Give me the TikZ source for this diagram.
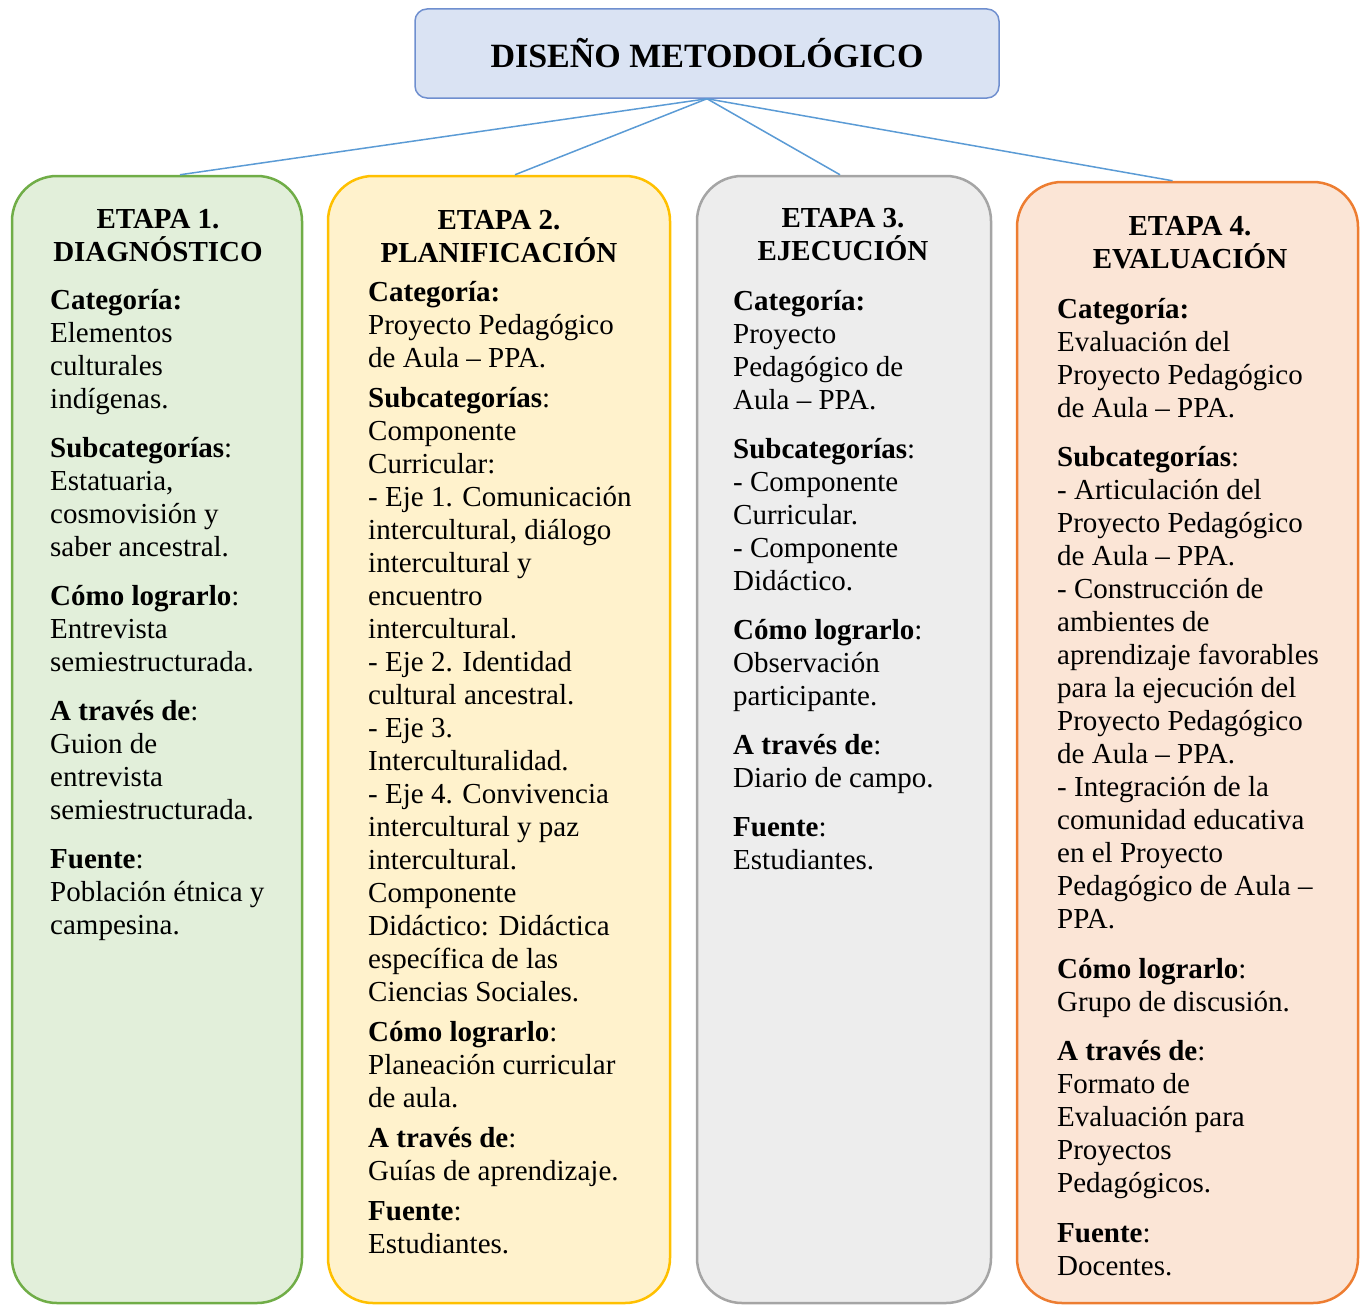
\documentclass[tikz,border=0pt]{standalone}
\usepackage{fontspec}
\setmainfont{Liberation Serif}
\definecolor{azulF}{HTML}{DAE3F3}
\definecolor{azulB}{HTML}{6F8FCF}
\definecolor{enlaceC}{HTML}{5B9BD5}
\definecolor{verdeF}{HTML}{E2EFDA}
\definecolor{verdeB}{HTML}{70AD47}
\definecolor{amarF}{HTML}{FFF2CC}
\definecolor{amarB}{HTML}{FFC000}
\definecolor{grisF}{HTML}{EDEDED}
\definecolor{grisB}{HTML}{A5A5A5}
\definecolor{naraF}{HTML}{FBE5D6}
\definecolor{naraB}{HTML}{ED7D31}
\begin{document}
\begin{tikzpicture}[x=1pt,y=-1pt,
  etapa/.style n args={2}{draw=#1, fill=#2, line width=2.5pt, rounded corners=45pt, inner sep=0pt},
  titulo/.style={font=\fontsize{29}{33}\selectfont\bfseries, align=center, anchor=base, inner sep=0pt},
  cuerpo/.style={font=\fontsize{29}{33}\selectfont, align=left, anchor=base west, inner sep=0pt},
  enlace/.style={draw=enlaceC, line width=1.5pt}]
\useasboundingbox (0,0) rectangle (1360,1306);
\node [draw=azulB, fill=azulF, line width=1.5pt, rounded corners=12pt, minimum width=584pt, minimum height=89pt,
  font=\fontsize{34}{40}\selectfont\bfseries] (diseno) at (707,53.5) {DISEÑO METODOLÓGICO};
\node [etapa={verdeB}{verdeF}, minimum width=290pt, minimum height=1127pt] (etapaA) at (157,739.5) {};
\node [etapa={amarB}{amarF}, minimum width=342pt, minimum height=1127pt] (etapaB) at (499,739.5) {};
\node [etapa={grisB}{grisF}, minimum width=294pt, minimum height=1127pt] (etapaC) at (844,739.5) {};
\node [etapa={naraB}{naraF}, minimum width=341pt, minimum height=1121pt] (etapaD) at (1187.5,742.5) {};
\draw [enlace] (diseno.south) -- ([xshift=23pt]etapaA.north);
\draw [enlace] (diseno.south) -- ([xshift=16pt]etapaB.north);
\draw [enlace] (diseno.south) -- ([xshift=-4pt]etapaC.north);
\draw [enlace] (diseno.south) -- ([xshift=-15pt]etapaD.north);
\node [titulo] (tituloA) at (158,261) {ETAPA 1.\\DIAGNÓSTICO};
\node [titulo] (tituloB) at (499,262) {ETAPA 2.\\PLANIFICACIÓN};
\node [titulo] (tituloC) at (843,260) {ETAPA 3.\\EJECUCIÓN};
\node [titulo] (tituloD) at (1190,268) {ETAPA 4.\\EVALUACIÓN};
\node [cuerpo] (textoA) at (50,934) {\textbf{Categoría:}\\
  Elementos\\culturales\\indígenas.\\[16pt]
  \textbf{Subcategorías}:\\Estatuaria,\\cosmovisión y\\saber ancestral.\\[16pt]
  \textbf{Cómo lograrlo}:\\Entrevista\\semiestructurada.\\[16pt]
  \textbf{A través de}:\\Guion de\\entrevista\\semiestructurada.\\[16pt]
  \textbf{Fuente}:\\Población étnica y\\campesina.};
\node [cuerpo] (textoB) at (368,1253) {\textbf{Categoría:}\\
  Proyecto Pedagógico\\de Aula – PPA.\\[7pt]
  \textbf{Subcategorías}:\\Componente\\Curricular:\\- Eje 1. Comunicación\\intercultural, diálogo\\
  intercultural y\\encuentro\\intercultural.\\- Eje 2. Identidad\\cultural ancestral.\\- Eje 3.\\
  Interculturalidad.\\- Eje 4. Convivencia\\intercultural y paz\\intercultural.\\Componente\\
  Didáctico: Didáctica\\específica de las\\Ciencias Sociales.\\[7pt]
  \textbf{Cómo lograrlo}:\\Planeación curricular\\de aula.\\[7pt]
  \textbf{A través de}:\\Guías de aprendizaje.\\[7pt]
  \textbf{Fuente}:\\Estudiantes.};
\node [cuerpo] (textoC) at (733,869) {\textbf{Categoría:}\\
  Proyecto\\Pedagógico de\\Aula – PPA.\\[16pt]
  \textbf{Subcategorías}:\\- Componente\\Curricular.\\- Componente\\Didáctico.\\[16pt]
  \textbf{Cómo lograrlo}:\\Observación\\participante.\\[16pt]
  \textbf{A través de}:\\Diario de campo.\\[16pt]
  \textbf{Fuente}:\\Estudiantes.};
\node [cuerpo] (textoD) at (1057,1275) {\textbf{Categoría:}\\
  Evaluación del\\Proyecto Pedagógico\\de Aula – PPA.\\[16.5pt]
  \textbf{Subcategorías}:\\- Articulación del\\Proyecto Pedagógico\\de Aula – PPA.\\- Construcción de\\
  ambientes de\\aprendizaje favorables\\para la ejecución del\\Proyecto Pedagógico\\de Aula – PPA.\\
  - Integración de la\\comunidad educativa\\en el Proyecto\\Pedagógico de Aula –\\PPA.\\[16.5pt]
  \textbf{Cómo lograrlo}:\\Grupo de discusión.\\[16.5pt]
  \textbf{A través de}:\\Formato de\\Evaluación para\\Proyectos\\Pedagógicos.\\[16.5pt]
  \textbf{Fuente}:\\Docentes.};
\end{tikzpicture}
\end{document}
